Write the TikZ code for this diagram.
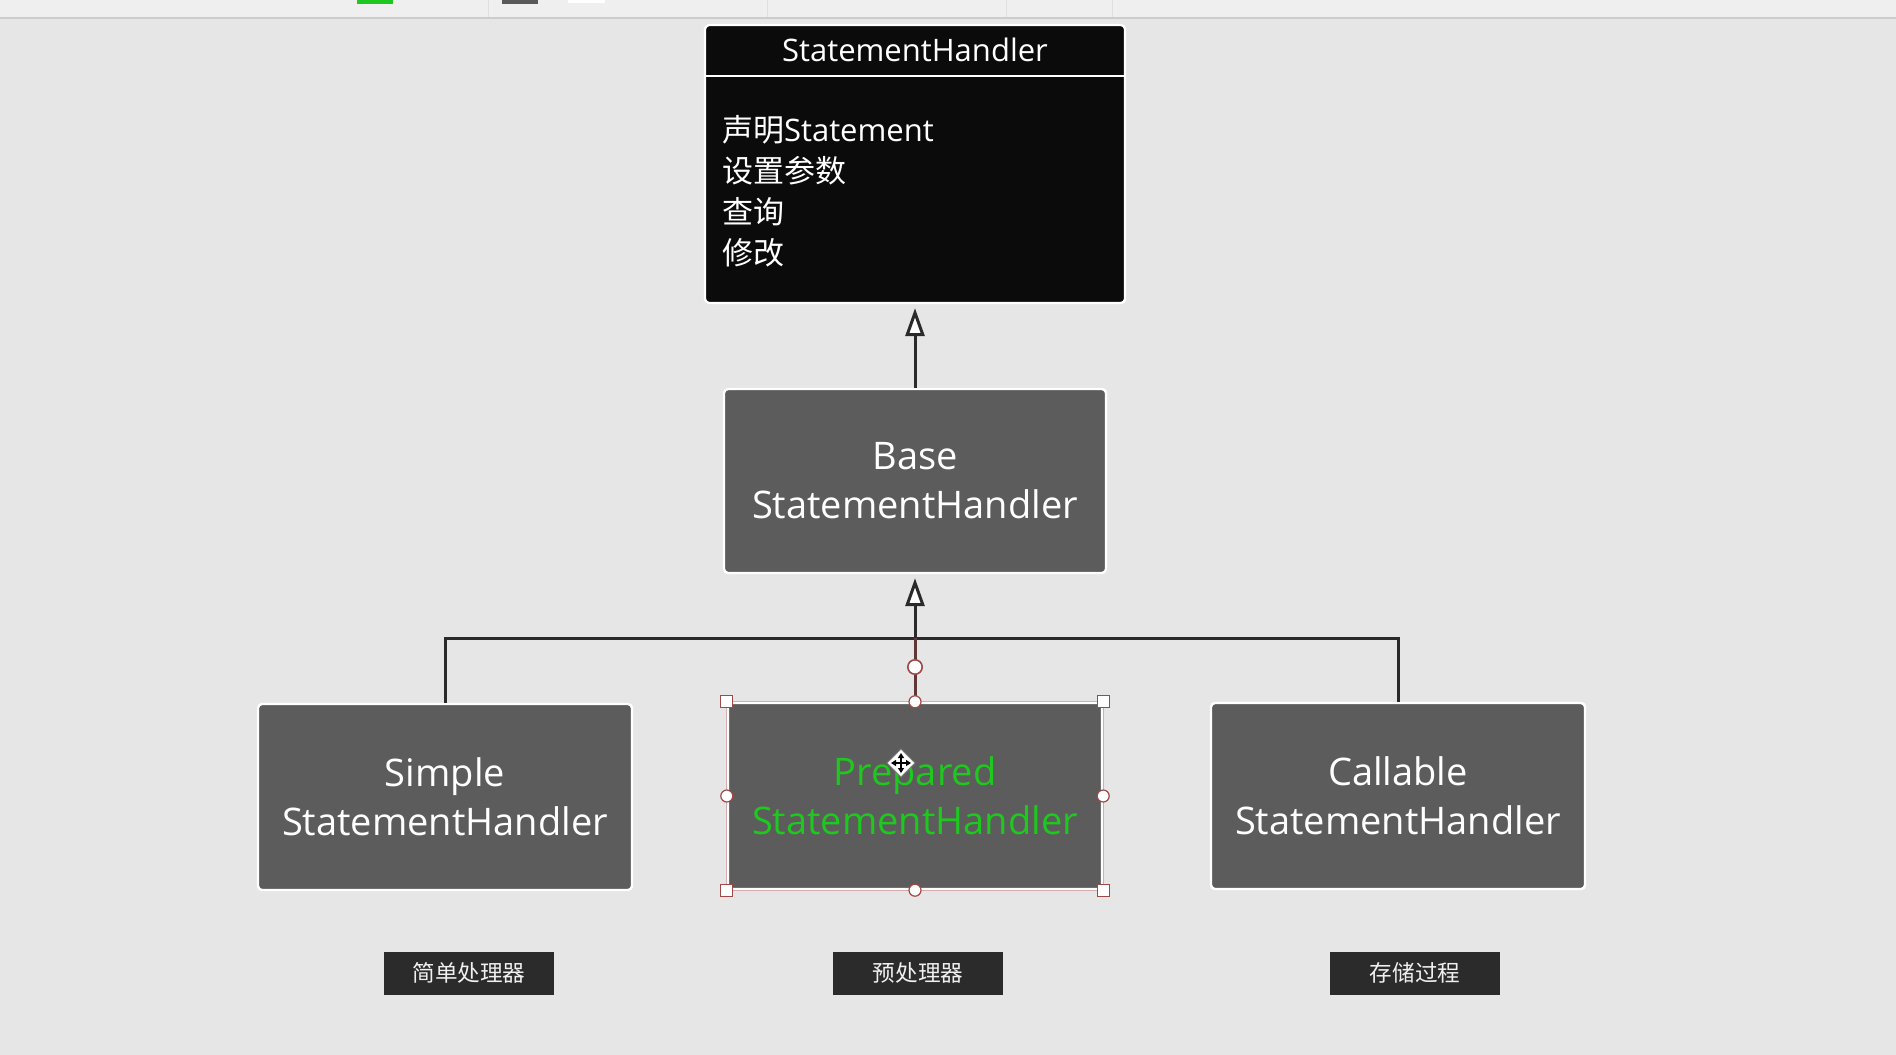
\documentclass[tikz,border=0pt]{standalone}
\usepackage{fontspec}
\setmainfont{Open Sans}
\newfontfamily\cjk{Noto Sans CJK SC}
\usetikzlibrary{arrows.meta}

\definecolor{canvas}{HTML}{E6E6E6}
\definecolor{toolbar}{HTML}{EFEFEF}
\definecolor{boxgray}{HTML}{5B5C5B}
\definecolor{classblack}{HTML}{0B0B0B}
\definecolor{tagdark}{HTML}{2B2B2B}
\definecolor{linkdark}{HTML}{2A2A2A}
\definecolor{selred}{HTML}{A04848}
\definecolor{hilite}{HTML}{1EC81E}

\begin{document}
\begin{tikzpicture}[
    x=0.5pt, y=-0.5pt,
    box/.style={draw=white, line width=1.2pt, fill=boxgray, rounded corners=2pt,
        text=white, align=center, minimum width=187pt, minimum height=93pt,
        font=\fontsize{19}{24.5}\selectfont},
    tag/.style={fill=tagdark, text=white!88!gray, minimum width=85pt,
        minimum height=21.5pt, inner sep=0pt, font=\cjk\fontsize{11.3}{13}\selectfont},
    link/.style={draw=linkdark, line width=1.5pt},
    inherit/.style={link, -{Triangle[width=9.5pt, length=14pt, fill=white]}},
    handle/.style={fill=white, draw=selred, line width=0.6pt}
]

% Canvas and toolbar strip
\useasboundingbox (0,0) rectangle (1896,1055);
\fill[canvas] (0,0) rectangle (1896,1055);
\fill[toolbar] (0,0) rectangle (1896,18);
\draw[black!20, line width=0.8pt] (0,18) -- (1896,18);
\foreach \x in {488, 767, 1006, 1112}
    \draw[black!12] (\x,0) -- (\x,17);
\fill[hilite] (357,0) rectangle (393,4);
\fill[black!65] (502,0) rectangle (538,4);
\fill[white] (568,0) rectangle (605,3);

% Interface box
\node[draw=white, line width=1.2pt, fill=classblack, rounded corners=2pt,
    minimum width=210pt, minimum height=139pt] (handler) at (915,164) {};
\node[text=white, font=\fontsize{15.5}{18}\selectfont] (title) at (915,50) {StatementHandler};
\draw[white, line width=1.3pt] (705,76) -- (1125,76);
\node[text=white, align=left, anchor=west, font=\fontsize{15.5}{20.5}\selectfont]
    (ops) at (715,191) {{\cjk 声明}Statement\\{\cjk 设置参数}\\{\cjk 查询}\\{\cjk 修改}};

% Class boxes
\node[box, minimum width=191pt, minimum height=92pt] (base) at (915,481) {Base\\StatementHandler};
\node[box] (simple) at (445,797) {Simple\\StatementHandler};
\node[box, text=hilite] (prepared) at (915,796) {Prepared\\StatementHandler};
\node[box] (callable) at (1398,796) {Callable\\StatementHandler};

% Chinese tags
\node[tag] (tagsimple) at (469,973) {简单处理器};
\node[tag] (tagprepared) at (918,973) {预处理器};
\node[tag] (tagcallable) at (1415,973) {存储过程};

% Inheritance
\coordinate (bus) at (915,638);
\draw[inherit, shorten >=2pt] (base.north) -- (handler.south);
\draw[inherit, shorten >=2pt] (bus) -- (base.south);
\draw[link] (simple.north) |- (bus) -| (callable.north);
\draw[draw=selred!45!linkdark, line width=1.5pt] (prepared.north) -- (bus);
\draw[handle, line width=0.8pt] (915,667) circle (3.6pt);

% Selection handles
\draw[selred!45, line width=0.5pt] (prepared.north west) rectangle (prepared.south east);
\foreach \a in {north west, north east, south west, south east}
    \draw[handle] ([xshift=-3pt, yshift=-3pt]prepared.\a) rectangle ++(12,-12);
\foreach \a in {north, south, west, east}
    \draw[handle] (prepared.\a) circle (3pt);

% Move cursor
\filldraw[fill=white, draw=black!50, line width=0.4pt]
    (901,749) -- (915,763) -- (901,777) -- (887,763) -- cycle;
\draw[black, line width=1pt, {Triangle[width=3pt, length=2.5pt]}-{Triangle[width=3pt, length=2.5pt]}] (891,763) -- (911,763);
\draw[black, line width=1pt, {Triangle[width=3pt, length=2.5pt]}-{Triangle[width=3pt, length=2.5pt]}] (901,753) -- (901,773);

\end{tikzpicture}
\end{document}
